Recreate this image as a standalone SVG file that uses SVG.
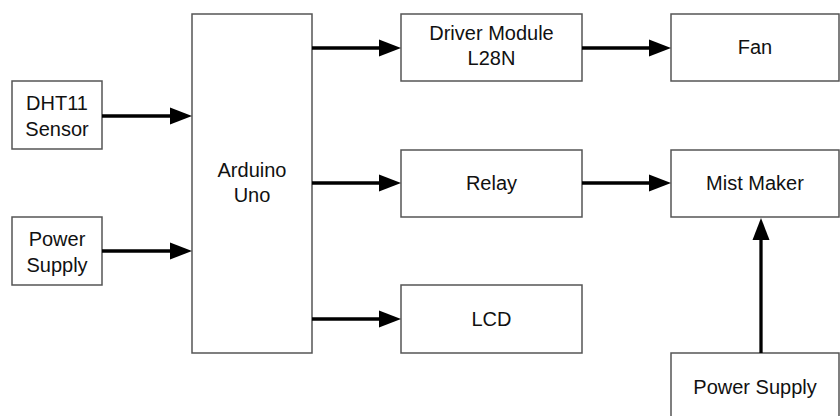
<svg xmlns="http://www.w3.org/2000/svg" width="840" height="416" viewBox="0 0 840 416">
<style>
.box{fill:#fff;stroke:#555;stroke-width:1.5}
.t{font-family:"Liberation Sans",Arial,sans-serif;font-size:20px;fill:#111;text-anchor:middle}
.c{stroke:#000;stroke-width:3.3;fill:none;marker-end:url(#arr)}
</style>
<defs>
<marker id="arr" markerUnits="userSpaceOnUse" markerWidth="24" markerHeight="18" refX="0" refY="8.5" orient="auto" overflow="visible">
<path d="M0,0 L22,8.5 L0,17 z" fill="#000"/>
</marker>
</defs>
<rect width="840" height="416" fill="#fff"/>
<g id="dht11"><rect class="box" x="12" y="81" width="90" height="68"/><text class="t" x="57" y="110">DHT11</text><text class="t" x="57" y="136">Sensor</text></g>
<g id="power-left"><rect class="box" x="12" y="217" width="90" height="68"/><text class="t" x="57" y="246">Power</text><text class="t" x="57" y="272">Supply</text></g>
<g id="arduino"><rect class="box" x="192" y="14" width="120" height="339"/><text class="t" x="252" y="177">Arduino</text><text class="t" x="252" y="202">Uno</text></g>
<g id="driver"><rect class="box" x="401" y="14" width="181" height="67"/><text class="t" x="491.5" y="40">Driver Module</text><text class="t" x="491.5" y="65">L28N</text></g>
<g id="relay"><rect class="box" x="401" y="150" width="181" height="67"/><text class="t" x="491.5" y="190">Relay</text></g>
<g id="lcd"><rect class="box" x="401" y="285" width="181" height="68"/><text class="t" x="491.5" y="326">LCD</text></g>
<g id="fan"><rect class="box" x="671" y="14" width="168" height="67"/><text class="t" x="755" y="54">Fan</text></g>
<g id="mist"><rect class="box" x="671" y="150" width="168" height="67"/><text class="t" x="755" y="190">Mist Maker</text></g>
<g id="power-right"><rect class="box" x="671" y="353" width="168" height="70"/><text class="t" x="755" y="394">Power Supply</text></g>
<g id="connectors">
<line class="c" x1="102" y1="116" x2="170" y2="116"/>
<line class="c" x1="102" y1="251" x2="170" y2="251"/>
<line class="c" x1="312" y1="48" x2="379" y2="48"/>
<line class="c" x1="312" y1="183" x2="379" y2="183"/>
<line class="c" x1="312" y1="319" x2="379" y2="319"/>
<line class="c" x1="582" y1="48" x2="649" y2="48"/>
<line class="c" x1="582" y1="183" x2="649" y2="183"/>
<line class="c" x1="761" y1="353" x2="761" y2="240"/>
</g>
</svg>
